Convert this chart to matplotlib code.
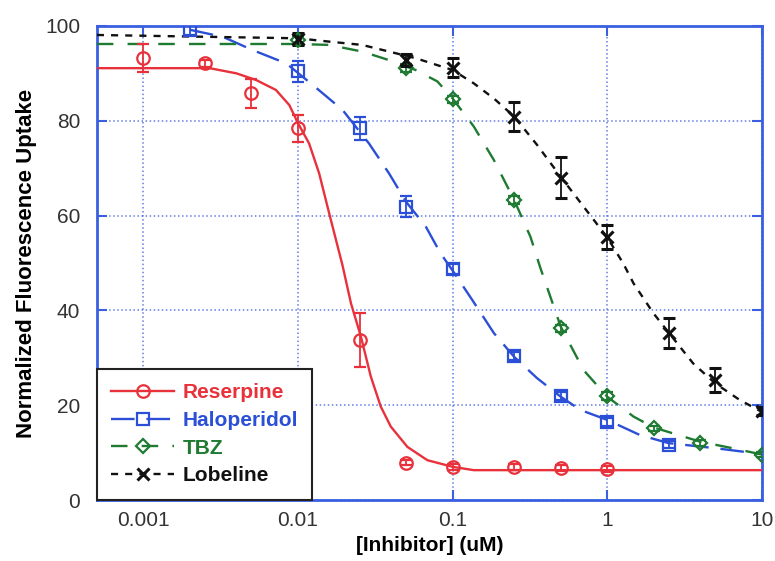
import matplotlib
matplotlib.use("Agg")
import matplotlib.pyplot as plt
from matplotlib.lines import Line2D

plt.rcParams['font.family'] = ['Liberation Sans', 'DejaVu Sans']

# measured points
res_x = [0.001, 0.0025, 0.005, 0.01, 0.025, 0.05, 0.1, 0.25, 0.5, 1]
res_y = [93.3, 92.1, 85.8, 78.4, 33.8, 7.9, 6.9, 6.9, 6.7, 6.5]
res_err = [3.0, 0.8, 3.1, 2.9, 5.7, 0.6, 0.6, 0.6, 0.6, 0.6]

hal_x = [0.002, 0.01, 0.025, 0.05, 0.1, 0.25, 0.5, 1, 2.5]
hal_y = [99.2, 90.4, 78.4, 61.9, 48.7, 30.4, 22.0, 16.5, 11.7]
hal_err = [1.0, 2.3, 2.5, 2.3, 1.0, 0.8, 0.8, 0.8, 0.8]

tbz_x = [0.01, 0.05, 0.1, 0.25, 0.5, 1, 2, 4, 10]
tbz_y = [97.0, 91.1, 84.5, 63.3, 36.2, 21.9, 15.1, 12.1, 9.6]
tbz_err = [0.8, 0.8, 0.8, 0.8, 0.8, 0.8, 0.6, 0.6, 0.6]

lob_x = [0.01, 0.05, 0.1, 0.25, 0.5, 1, 2.5, 5, 10]
lob_y = [97.2, 92.8, 91.2, 80.9, 68.0, 55.5, 35.3, 25.3, 18.8]
lob_err = [1.3, 1.3, 2.0, 3.0, 4.3, 2.6, 3.2, 2.5, 0.8]

# fitted curves
res_fx = [0.0005, 0.002, 0.00268, 0.004, 0.00536, 0.0072, 0.00879, 0.01, 0.0118, 0.0137,
          0.0159, 0.0194, 0.022, 0.0255, 0.0296, 0.0343, 0.0398, 0.051, 0.0687, 0.1, 0.137, 10]
res_fy = [91.1, 91.1, 91.1, 90.0, 88.6, 86.5, 83.3, 79.5, 75.2, 68.9,
          60.5, 49.5, 41.5, 34.5, 26.0, 19.7, 15.5, 11.2, 8.4, 7.0, 6.3, 6.3]

hal_fx = [0.002, 0.00327, 0.0051, 0.0084, 0.0124, 0.0194, 0.0288, 0.0388, 0.05, 0.067, 0.0837,
          0.1, 0.134, 0.185, 0.25, 0.352, 0.5, 0.67, 1, 1.63, 2.5, 5.1, 10]
hal_fy = [99.2, 97.7, 94.9, 92.1, 87.6, 82.3, 75.2, 68.9, 62.9, 57.7, 52.0,
          48.4, 42.2, 35.2, 30.2, 25.7, 21.8, 19.0, 16.9, 13.7, 12.0, 10.9, 9.7]

tbz_fx = [0.0005, 0.01, 0.0159, 0.026, 0.0388, 0.0577, 0.0797, 0.1, 0.137, 0.185, 0.25,
          0.319, 0.37, 0.5, 0.703, 1, 1.48, 2, 4, 6.53, 10]
tbz_fy = [96.2, 96.2, 96.0, 94.6, 92.8, 90.7, 88.3, 84.7, 78.8, 71.7, 63.3,
          55.5, 48.9, 36.6, 27.4, 21.8, 17.6, 15.3, 12.3, 10.9, 9.6]

lob_fx = [0.0005, 0.01, 0.0159, 0.026, 0.0388, 0.0577, 0.1, 0.137, 0.185, 0.25, 0.352,
          0.5, 0.703, 1, 1.27, 1.48, 1.99, 2.5, 3.6, 5, 7.2, 10]
lob_fy = [98.1, 97.4, 96.7, 96.0, 94.6, 93.2, 90.7, 87.9, 84.7, 80.9, 74.9,
          68.2, 61.9, 55.4, 49.9, 45.7, 39.4, 35.3, 28.8, 24.6, 21.1, 18.6]

names = ['Reserpine', 'Haloperidol', 'TBZ', 'Lobeline']
xticks = [0.001, 0.01, 0.1, 1, 10]
xtick_labels = ['0.001', '0.01', '0.1', '1', '10']
yticks = [0, 20, 40, 60, 80, 100]

red = '#e8313b'
blue = '#2b4fd6'
green = '#1f7a32'
black = '#111111'
axcol = '#3a5fe0'

fig = plt.figure(figsize=(7.75, 5.61), dpi=100)
ax = fig.add_axes([0.125, 0.1087, 0.858, 0.845])

series = [
    (res_x, res_y, res_err, res_fx, res_fy, red, 'o', '-', None),
    (hal_x, hal_y, hal_err, hal_fx, hal_fy, blue, 's', '--', (10, 5)),
    (tbz_x, tbz_y, tbz_err, tbz_fx, tbz_fy, green, 'D', '--', (7, 6)),
    (lob_x, lob_y, lob_err, lob_fx, lob_fy, black, 'x', ':', (3, 3)),
]

handles = []
for px, py, pe, fx, fy, c, m, ls, dash in series:
    line, = ax.plot(fx, fy, color=c, lw=1.7, ls=ls, zorder=3)
    if dash is not None:
        line.set_dashes(dash)
    ms = 7 if m == 'D' else 9
    mew = 2.2 if m == 'x' else 1.6
    ax.errorbar(px, py, yerr=pe, fmt=m, color=c, mfc='none', mec=c, mew=mew, ms=ms,
                ecolor=c, elinewidth=1.3, capsize=4, capthick=1.3, zorder=4)
    h = Line2D([], [], color=c, lw=1.7, ls=ls, marker=m, mfc='none', mec=c, mew=mew, ms=ms)
    if dash is not None:
        h.set_dashes(dash)
    handles.append(h)

ax.set_xscale('log')
ax.set_xlim(0.0005, 10)
ax.set_ylim(0, 100)
ax.set_xticks(xticks, xtick_labels)
ax.set_yticks(yticks)
ax.minorticks_off()

ax.grid(True, color=axcol, ls=':', lw=1.1, alpha=0.8)
for s in ax.spines.values():
    s.set_color(axcol)
    s.set_linewidth(2)
ax.tick_params(axis='both', direction='in', length=7, width=1.5, color=axcol,
               labelsize=15, labelcolor='#333333', top=True, right=True)
ax.tick_params(axis='y', pad=12)
ax.tick_params(axis='x', pad=8)

ax.set_ylabel('Normalized Fluorescence Uptake', fontsize=16, fontweight='bold', labelpad=6)
ax.set_xlabel('[Inhibitor] (uM)', fontsize=15, fontweight='bold', labelpad=4)

leg = ax.legend(handles, names, loc='lower left', bbox_to_anchor=(0, 0), borderaxespad=0,
                fancybox=False, framealpha=1, edgecolor='#222222',
                prop={'weight': 'bold', 'size': 15}, handlelength=3.0, handletextpad=0.4,
                labelspacing=0.42, borderpad=0.7)
leg.get_frame().set_linewidth(1.5)
leg.set_zorder(10)
for t, c in zip(leg.get_texts(), [red, blue, green, black]):
    t.set_color(c)

fig.savefig('out.png', dpi=100)
